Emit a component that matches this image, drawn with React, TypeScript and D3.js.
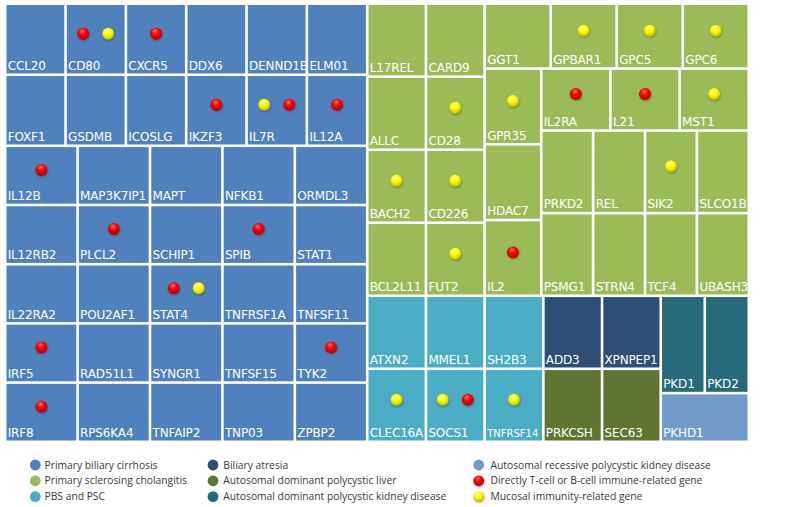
import React from "react";
import * as d3 from "d3";

// ---------- data ----------
const pbcGenes = [
  "CCL20", "CD80", "CXCR5", "DDX6", "DENND1B", "ELM01",
  "FOXF1", "GSDMB", "ICOSLG", "IKZF3", "IL7R", "IL12A",
  "IL12B", "MAP3K7IP1", "MAPT", "NFKB1", "ORMDL3",
  "IL12RB2", "PLCL2", "SCHIP1", "SPIB", "STAT1",
  "IL22RA2", "POU2AF1", "STAT4", "TNFRSF1A", "TNFSF11",
  "IRF5", "RAD51L1", "SYNGR1", "TNFSF15", "TYK2",
  "IRF8", "RPS6KA4", "TNFAIP2", "TNP03", "ZPBP2",
];
const pbcRowSizes = [6, 6, 5, 5, 5, 5, 5];

const pscLeftGenes = ["L17REL", "CARD9", "ALLC", "CD28", "BACH2", "CD226", "BCL2L11", "FUT2"];
const pscLeftRowSizes = [2, 2, 2, 2];
const pscTopGenes = ["GGT1", "GPBAR1", "GPC5", "GPC6"];
const pscMidGenes = ["GPR35", "HDAC7", "IL2"];
const pscRestGenes = ["IL2RA", "L21", "MST1", "PRKD2", "REL", "SIK2", "SLCO1B1", "PSMG1", "STRN4", "TCF4", "UBASH3A"];
const pscRestRowSizes = [3, 4, 4];

const pbsPscGenes = ["ATXN2", "MMEL1", "SH2B3", "CLEC16A", "SOCS1", "TNFRSF14"];
const pbsPscRowSizes = [3, 3];
const baGenes = ["ADD3", "XPNPEP1"];
const adplGenes = ["PRKCSH", "SEC63"];
const adpkdGenes = ["PKD1", "PKD2"];
const arpkdGenes = ["PKHD1"];

const tCellGenes = ["CD80", "CXCR5", "IKZF3", "IL7R", "IL12A", "IL12B", "PLCL2", "SPIB", "STAT4", "IRF5", "TYK2", "IRF8", "IL2RA", "L21", "IL2", "SOCS1"];
const mucosalGenes = ["CD80", "IL7R", "STAT4", "GPBAR1", "GPC5", "GPC6", "CD28", "GPR35", "MST1", "BACH2", "CD226", "FUT2", "SIK2", "CLEC16A", "SOCS1", "TNFRSF14"];
const yellowFirstGenes = ["IL7R", "SOCS1"];
const smallLabelGenes = ["TNFRSF14"];

const diseaseKeys = ["pbc", "psc", "pbspsc", "ba", "adpl", "adpkd", "arpkd"];
const diseaseLabels = [
  "Primary biliary cirrhosis",
  "Primary sclerosing cholangitis",
  "PBS and PSC",
  "Biliary atresia",
  "Autosomal dominant polycystic liver",
  "Autosomal dominant polycystic kidney disease",
  "Autosomal recessive polycystic kidney disease",
];
const diseaseColors = ["#4f81bd", "#9bbb59", "#4bacc6", "#2c4e77", "#607531", "#276a7b", "#729acb"];
const markerLabels = ["Directly T-cell or B-cell immune-related gene", "Mucosal immunity-related gene"];

// ---------- layout tree ----------
type N = { name?: string; disease?: string; dir?: "h" | "v"; children?: N[] };
const leaves = (genes: string[], disease: string): N[] => genes.map((g) => ({ name: g, disease }));
const rowsOf = (genes: string[], sizes: number[], disease: string): N => {
  let s = 0;
  return {
    dir: "v",
    children: sizes.map((n) => {
      const row = { dir: "h" as const, children: leaves(genes.slice(s, s + n), disease) };
      s += n;
      return row;
    }),
  };
};

const tree: N = {
  dir: "h",
  children: [
    rowsOf(pbcGenes, pbcRowSizes, "pbc"),
    {
      dir: "v",
      children: [
        {
          dir: "h",
          children: [
            rowsOf(pscLeftGenes, pscLeftRowSizes, "psc"),
            {
              dir: "v",
              children: [
                { dir: "h", children: leaves(pscTopGenes, "psc") },
                {
                  dir: "h",
                  children: [
                    { dir: "v", children: leaves(pscMidGenes, "psc") },
                    rowsOf(pscRestGenes, pscRestRowSizes, "psc"),
                  ],
                },
              ],
            },
          ],
        },
        {
          dir: "h",
          children: [
            rowsOf(pbsPscGenes, pbsPscRowSizes, "pbspsc"),
            {
              dir: "v",
              children: [
                { dir: "h", children: leaves(baGenes, "ba") },
                { dir: "h", children: leaves(adplGenes, "adpl") },
              ],
            },
            {
              dir: "v",
              children: [
                { dir: "h", children: leaves(adpkdGenes, "adpkd") },
                { dir: "h", children: leaves(arpkdGenes, "arpkd") },
              ],
            },
          ],
        },
      ],
    },
  ],
};

const W = 800;
const H = 507;
const X0 = 6.5, Y0 = 5, X1 = 747.5, Y1 = 440.5;
const GAP = 2.6;

const tile = (node: any, x0: number, y0: number, x1: number, y1: number) =>
  (node.data.dir === "h" ? d3.treemapDice : d3.treemapSlice)(node, x0, y0, x1, y1);

const root = d3.hierarchy<N>(tree).sum((d) => (d.children ? 0 : 1));
d3.treemap<N>().tile(tile).size([X1 - X0, Y1 - Y0]).paddingInner(GAP).round(false)(root);
const cells = root.leaves() as any[];

const colorScale = d3.scaleOrdinal<string, string>().domain(diseaseKeys).range(diseaseColors);

const Dot = ({ cx, cy, kind, r = 6 }: { cx: number; cy: number; kind: "red" | "yellow"; r?: number }) => (
  <g>
    <circle cx={cx + 0.6} cy={cy + 1.2} r={r} fill="rgba(0,0,0,0.28)" filter="url(#dotBlur)" />
    <circle cx={cx} cy={cy} r={r} fill={`url(#${kind}Grad)`} />
  </g>
);

export default function App() {
  return (
    <div style={{ position: "absolute", left: 0, top: 0, width: W, height: H, background: "#fff" }}>
      <svg width={W} height={H} style={{ display: "block" }}>
        <defs>
          <radialGradient id="redGrad" cx="45%" cy="35%" r="65%" fx="42%" fy="28%">
            <stop offset="0%" stopColor="#ff7070" />
            <stop offset="45%" stopColor="#ff0000" />
            <stop offset="100%" stopColor="#b80000" />
          </radialGradient>
          <radialGradient id="yellowGrad" cx="45%" cy="35%" r="65%" fx="42%" fy="28%">
            <stop offset="0%" stopColor="#ffffa0" />
            <stop offset="45%" stopColor="#ffff00" />
            <stop offset="100%" stopColor="#c8b800" />
          </radialGradient>
          <filter id="dotBlur" x="-50%" y="-50%" width="200%" height="200%">
            <feGaussianBlur stdDeviation="0.8" />
          </filter>
          {cells.map((c, i) => (
            <clipPath id={`clip${i}`} key={i}>
              <rect x={X0 + c.x0} y={Y0 + c.y0} width={Math.min(c.x1 - c.x0 + GAP + 2, X1 - X0 - c.x0)} height={c.y1 - c.y0} />
            </clipPath>
          ))}
        </defs>

        {cells.map((c) => {
          const name: string = c.data.name;
          const x = X0 + c.x0, y = Y0 + c.y0, w = c.x1 - c.x0, h = c.y1 - c.y0;
          const red = tCellGenes.includes(name);
          const yellow = mucosalGenes.includes(name);
          const cx = x + w / 2;
          const cy = y + h / 2 - 5.5;
          let dots: { kind: "red" | "yellow"; dx: number }[] = [];
          if (red && yellow) {
            dots = yellowFirstGenes.includes(name)
              ? [{ kind: "yellow", dx: -12.5 }, { kind: "red", dx: 12.5 }]
              : [{ kind: "red", dx: -12.5 }, { kind: "yellow", dx: 12.5 }];
          } else if (red) dots = [{ kind: "red", dx: 0 }];
          else if (yellow) dots = [{ kind: "yellow", dx: 0 }];
          return (
            <g key={name}>
              <rect x={x} y={y} width={w} height={h} fill={colorScale(c.data.disease)} />
              {dots.map((d, j) => (
                <Dot key={j} cx={cx + d.dx} cy={cy} kind={d.kind} />
              ))}
            </g>
          );
        })}

        {cells.map((c, i) => {
          const name: string = c.data.name;
          const x = X0 + c.x0, y = Y0 + c.y0, h = c.y1 - c.y0;
          const small = smallLabelGenes.includes(name);
          return (
            <text
              key={name}
              x={x + 1.2}
              y={y + h - 3.5}
              clipPath={`url(#clip${i})`}
              fill="#ffffff"
              fontFamily="'DejaVu Sans', Verdana, sans-serif"
              fontSize={small ? 10 : 12}
              letterSpacing={small ? 0 : -0.15}
            >
              {name}
            </text>
          );
        })}

        {/* legend */}
        <g fontFamily="'Open Sans', Tahoma, sans-serif" fontSize={10.3} fill="#3a3a3a">
          {[
            ...diseaseLabels.map((l, i) => ({ label: l, color: diseaseColors[i], marker: null as null | "red" | "yellow" })),
            { label: markerLabels[0], color: "", marker: "red" as const },
            { label: markerLabels[1], color: "", marker: "yellow" as const },
          ].map((item, i) => {
            const col = Math.floor(i / 3);
            const row = i % 3;
            const colCircleX = [35.3, 213, 478.7][col];
            const colTextX = [44.5, 223.3, 490.5][col];
            const yy = 465 + row * 15.8;
            return (
              <g key={i}>
                {item.marker ? (
                  <Dot cx={colCircleX} cy={yy} kind={item.marker} r={5.4} />
                ) : (
                  <circle cx={colCircleX} cy={yy} r={5.4} fill={item.color} />
                )}
                <text x={colTextX} y={yy} dy="0.35em">
                  {item.label}
                </text>
              </g>
            );
          })}
        </g>
      </svg>
    </div>
  );
}
